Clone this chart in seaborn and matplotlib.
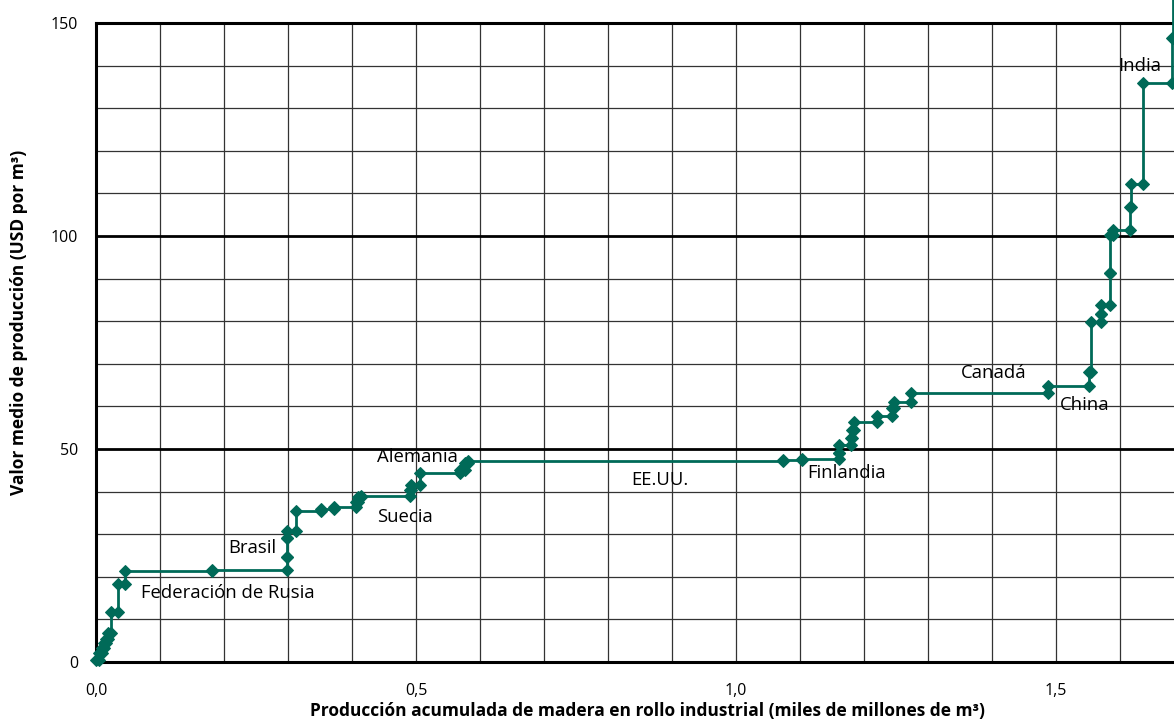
import matplotlib
matplotlib.use("Agg")
import matplotlib.pyplot as plt
import seaborn as sns
import numpy as np
import pandas as pd

# one entry per country, ordered by average value of production
# valor: USD per m3, acumulado: cumulative production at the end of the country (10^9 m3)
valor = [0.5, 2.0, 3.2, 4.4, 5.5, 6.7, 11.8, 18.2, 21.4, 21.6,
         24.6, 29.0, 30.7, 35.5, 36.0, 36.3, 37.5, 38.7, 39.0, 40.4,
         41.5, 44.3, 45.0, 46.6, 47.3, 47.4, 47.6, 49.0, 50.9, 52.5,
         54.5, 56.3, 57.8, 59.6, 61.0, 63.1, 64.7, 68.1, 79.7, 81.8,
         83.8, 91.4, 100.3, 101.3, 106.9, 112.2, 136.0, 146.4, 160.0]
acumulado = [0.005, 0.009, 0.012, 0.016, 0.019, 0.023, 0.035, 0.046, 0.181, 0.298,
             0.298, 0.298, 0.312, 0.352, 0.372, 0.407, 0.410, 0.414, 0.490, 0.492,
             0.506, 0.569, 0.577, 0.582, 1.074, 1.103, 1.161, 1.161, 1.179, 1.181,
             1.184, 1.221, 1.243, 1.247, 1.273, 1.488, 1.552, 1.554, 1.570, 1.571,
             1.584, 1.584, 1.589, 1.616, 1.617, 1.636, 1.682, 1.683, 1.750]

paises = ["Federación de Rusia", "Brasil", "Suecia", "Alemania", "EE.UU.",
          "Finlandia", "Canadá", "China", "India"]
pais_x = [0.070, 0.206, 0.439, 0.439, 0.836, 1.111, 1.352, 1.506, 1.598]
pais_y = [16.2, 26.8, 34.0, 48.1, 42.7, 44.4, 67.8, 60.3, 140.0]

x_ticks = [0.0, 0.5, 1.0, 1.5]
x_ticklabels = ["0,0", "0,5", "1,0", "1,5"]
y_ticks = [0, 50, 100, 150]

verde = "#006A58"

# step path: each country is a horizontal run from previous total to its own total
inicio = [0.0] + acumulado[:-1]
px, py = [], []
for a, b, v in zip(inicio, acumulado, valor):
    px += [a, b]
    py += [v, v]
df = pd.DataFrame({"x": px, "y": py})

sns.set_style("white")
plt.rcParams["font.family"] = ["Open Sans", "DejaVu Sans"]
plt.rcParams["text.color"] = "black"
plt.rcParams["xtick.color"] = "black"
plt.rcParams["ytick.color"] = "black"
plt.rcParams["axes.labelcolor"] = "black"

fig = plt.figure(figsize=(11.74, 7.22), dpi=100)
ax = fig.add_axes([96 / 1174, 60 / 722, 1078 / 1174, 639 / 722])

sns.lineplot(data=df, x="x", y="y", sort=False, estimator=None, color=verde,
             linewidth=2, marker="D", markersize=6, markeredgecolor=verde,
             clip_on=False, zorder=5, ax=ax)

ax.set_xlim(0, 1078 / 640)
ax.set_ylim(0, 150)

ax.set_xticks(x_ticks)
ax.set_xticklabels(x_ticklabels)
ax.set_xticks(np.arange(0, 1.7, 0.1), minor=True)
ax.set_yticks(y_ticks)
ax.set_yticks(np.arange(0, 151, 10), minor=True)
ax.tick_params(axis="both", which="both", length=0, labelsize=11.5)
ax.tick_params(axis="x", pad=15)
ax.tick_params(axis="y", pad=13)

ax.grid(axis="x", which="both", color="#333333", linewidth=0.9)
ax.grid(axis="y", which="minor", color="#333333", linewidth=0.9)
ax.grid(axis="y", which="major", color="black", linewidth=2)
ax.set_axisbelow(True)

for side in ["left", "bottom", "top"]:
    ax.spines[side].set_visible(True)
    ax.spines[side].set_color("black")
    ax.spines[side].set_linewidth(2.2)
ax.spines["right"].set_visible(False)

for nombre, tx, ty in zip(paises, pais_x, pais_y):
    ax.text(tx, ty, nombre, fontsize=13.3, ha="left", va="center", zorder=6)

ax.set_xlabel("Producción acumulada de madera en rollo industrial (miles de millones de m³)",
              fontsize=12.5, fontweight="bold")
ax.set_ylabel("Valor medio de producción (USD por m³)", fontsize=12.5, fontweight="bold")
ax.xaxis.set_label_coords((647 - 96) / 1078, (662 - 702) / 639)
ax.yaxis.set_label_coords((28 - 96) / 1078, (662 - 322) / 639)

fig.savefig("out.png", dpi=100)
